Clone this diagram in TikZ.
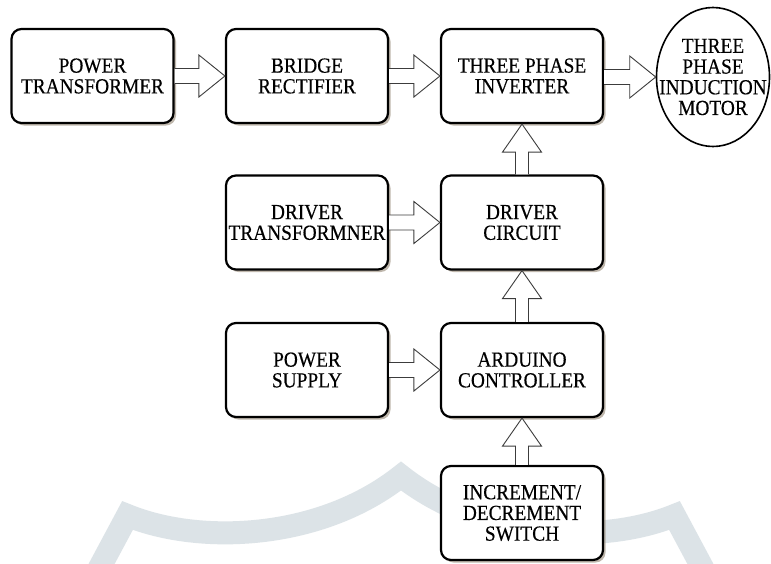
\documentclass[tikz,border=0pt]{standalone}
\usepackage{fontspec}
\setmainfont{Liberation Serif}[FakeStretch=0.9,FakeBold=0.35]
\usetikzlibrary{shadows,shapes.geometric,calc}
\definecolor{wm}{RGB}{220,227,231}
\definecolor{shd}{RGB}{140,125,105}
\definecolor{arr}{RGB}{60,60,60}
\tikzset{
  blockbox/.style={draw=black, line width=2.2pt, fill=white, rounded corners=10pt,
    minimum width=162pt, minimum height=94pt, align=center, inner sep=0pt,
    font=\fontsize{21.5}{20.7}\selectfont,
    drop shadow={shadow xshift=2.5pt, shadow yshift=-2.5pt, fill=shd, opacity=0.55}},
  motorshape/.style={draw=black, line width=1.6pt, fill=white, ellipse,
    minimum width=113pt, minimum height=139pt, inner sep=0pt},
  motortext/.style={align=center, inner sep=0pt, font=\fontsize{21.5}{20.7}\selectfont},
  blockarrow/.style={draw=arr, line width=0.9pt, fill=white, line join=miter},
  watermark/.style={draw=wm, line width=23pt, line join=miter}
}
\newcommand\hblockarrow[2]{%
  \draw[blockarrow] let \p1=(#1.east), \p2=(#2.west) in
    (\x1,\y2+7.5pt) -- (\x2-26pt,\y2+7.5pt) -- (\x2-26pt,\y2+21pt) -- (\x2,\y2)
    -- (\x2-26pt,\y2-21pt) -- (\x2-26pt,\y2-7.5pt) -- (\x1,\y2-7.5pt);}
\newcommand\vblockarrow[2]{%
  \draw[blockarrow] let \p1=(#1.north), \p2=(#2.south) in
    (\x2-6.5pt,\y1) -- (\x2-6.5pt,\y2-28pt) -- (\x2-19.5pt,\y2-28pt) -- (\x2,\y2)
    -- (\x2+19.5pt,\y2-28pt) -- (\x2+6.5pt,\y2-28pt) -- (\x2+6.5pt,\y1);}
\begin{document}
\begin{tikzpicture}[x=1pt,y=-1pt]
\clip (0,0) rectangle (771,563);
\fill[white] (0,0) rectangle (771,563);
% watermark
\draw[watermark] (93,580) -- (127.5,515.5)
  .. controls (200,545) and (320,540) .. (401,476)
  .. controls (482,540) and (602,545) .. (674.5,515.5) -- (709,580);
% boxes
\node[blockbox] (ptr) at (92.5,76) {POWER\\TRANSFORMER};
\node[blockbox] (br) at (307,76) {BRIDGE\\RECTIFIER};
\node[blockbox] (inv) at (522,76) {THREE PHASE\\INVERTER};
\node[motorshape] (motor) at (713,77) {};
\node[motortext] (motorlbl) at (motor.center) {THREE\\PHASE\\INDUCTION\\MOTOR};
\node[blockbox] (dtr) at (307,222.5) {DRIVER\\TRANSFORMNER};
\node[blockbox] (dc) at (522,222.5) {DRIVER\\CIRCUIT};
\node[blockbox] (ps) at (307,370) {POWER\\SUPPLY};
\node[blockbox] (ac) at (522,370) {ARDUINO\\CONTROLLER};
\node[blockbox] (ids) at (522,513) {INCREMENT/\\DECREMENT\\SWITCH};
% arrows
\hblockarrow{ptr}{br}
\hblockarrow{br}{inv}
\hblockarrow{inv}{motor}
\hblockarrow{dtr}{dc}
\hblockarrow{ps}{ac}
\vblockarrow{dc}{inv}
\vblockarrow{ac}{dc}
\vblockarrow{ids}{ac}
\end{tikzpicture}
\end{document}
